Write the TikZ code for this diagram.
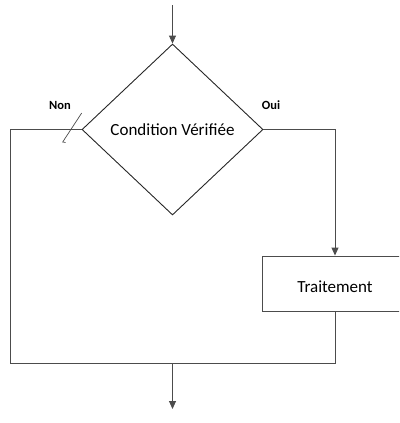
\documentclass[tikz,border=0pt]{standalone}
\usepackage{fontspec}
\setmainfont{Carlito}
\usetikzlibrary{shapes.geometric,arrows.meta}
\begin{document}
\begin{tikzpicture}[x=1pt,y=-1pt,
  line/.style={draw=black!70,line width=0.9pt},
  arr/.style={line,-{Triangle[length=8pt,width=7pt]}},
  txt/.style={font=\fontsize{17}{19}\selectfont},
  lbl/.style={font=\fontsize{12.5}{14}\selectfont\bfseries,inner sep=0pt}]
\useasboundingbox (0,0) rectangle (399,423);
\clip (0,0) rectangle (399,423);
\node[shape=diamond,draw=black!85,line width=0.9pt,minimum width=181pt,minimum height=171pt,inner sep=0pt,txt] (cond) at (172.5,129.5) {Condition Vérifiée};
\node[draw=black!70,line width=0.9pt,minimum width=146pt,minimum height=55pt,inner sep=0pt,txt,text height=18pt,text depth=0pt] (trait) at (335,283.5) {Traitement};
\coordinate (start) at (172.5,5);
\coordinate (ne) at (335,129.5);
\coordinate (nw) at (10,129.5);
\coordinate (sw) at (10,363);
\coordinate (se) at (335,363);
\coordinate (mid) at (172.5,363);
\coordinate (end) at (172.5,409);
\coordinate (s1) at (81.7,113);
\coordinate (s2) at (62.7,142);
\coordinate (s3) at (65.5,142.5);
\draw[arr] (start) -- (cond.north);
\draw[arr] (cond.east) -- (ne) -- (trait.north);
\draw[line] (cond.west) -- (nw) -- (sw) -- (se) -- (trait.south);
\draw[arr] (mid) -- (end);
\draw[line,line width=0.7pt] (s1) -- (s2) -- (s3);
\node[lbl] (non) at (60,105) {Non};
\node[lbl] (oui) at (271,105) {Oui};
\end{tikzpicture}
\end{document}
